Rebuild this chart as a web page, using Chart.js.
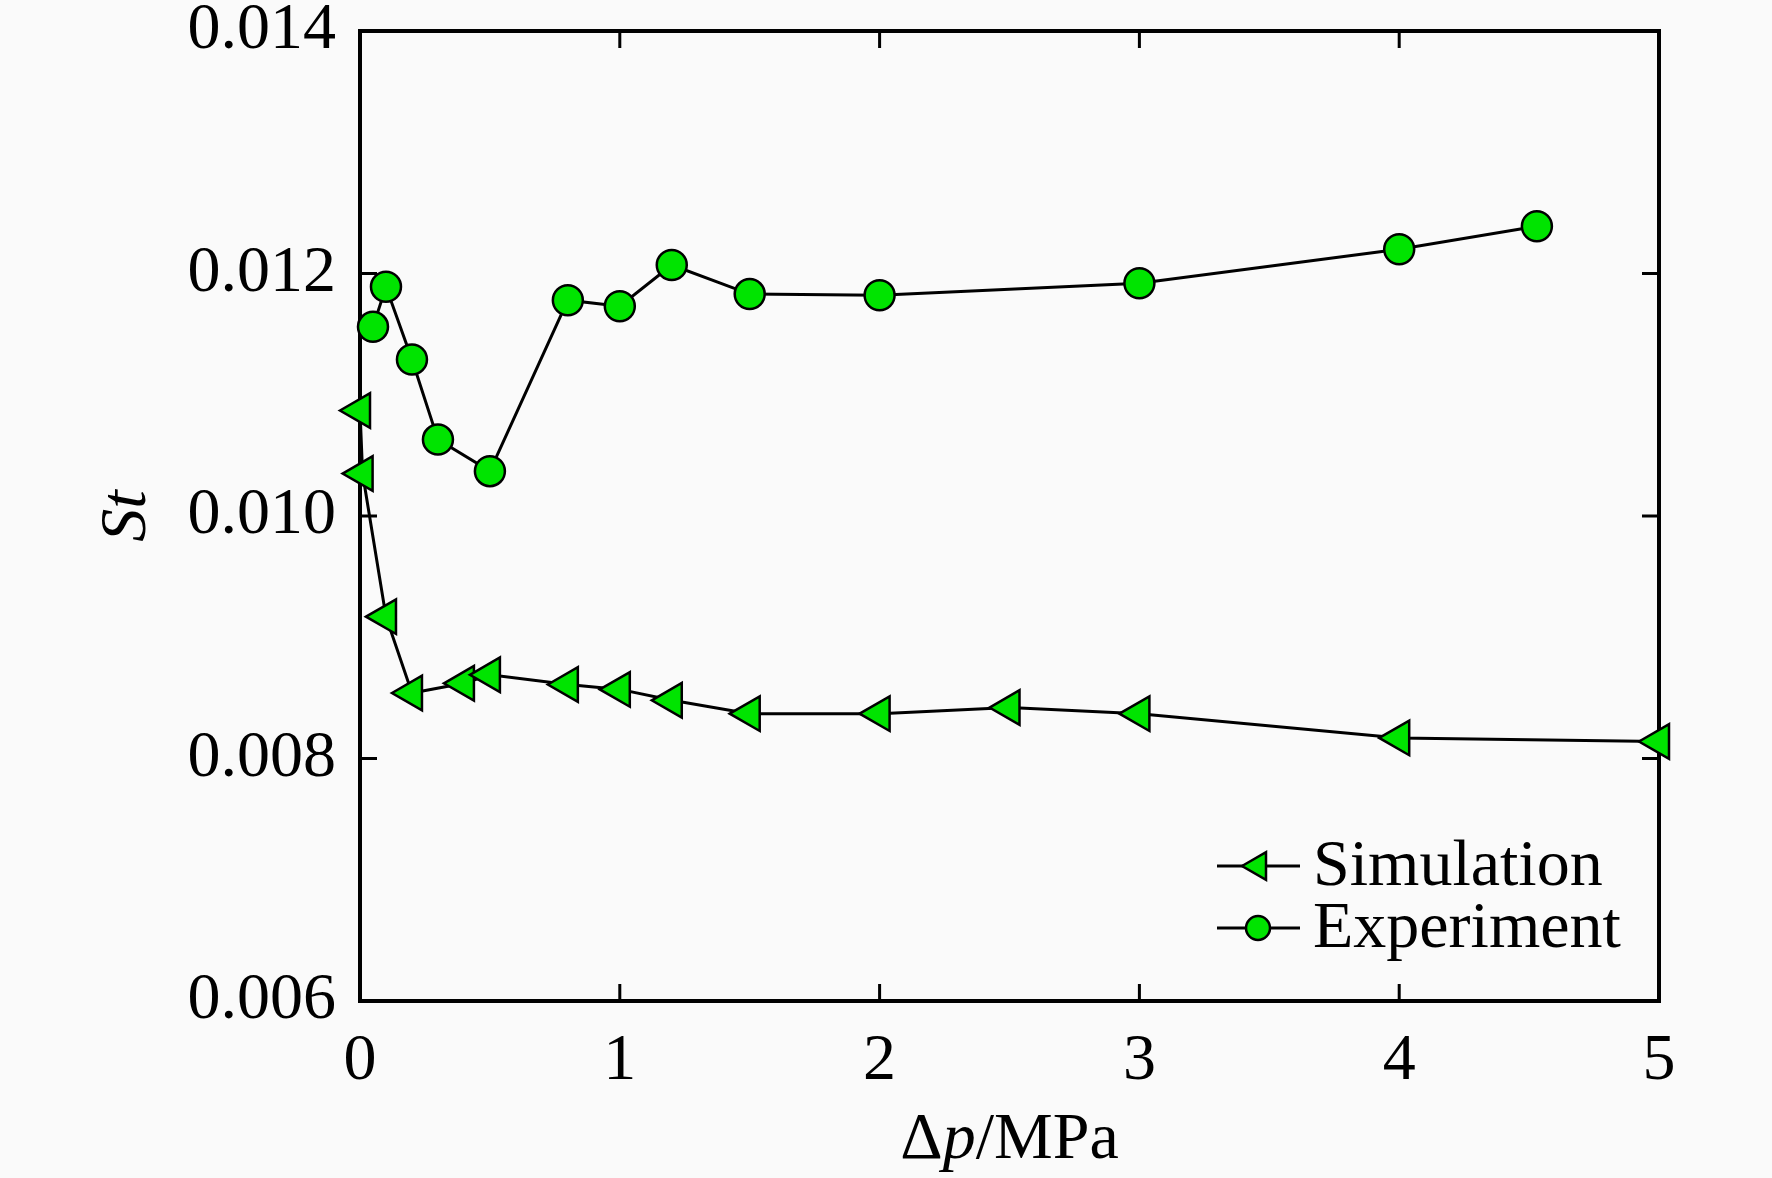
<!DOCTYPE html>
<html>
<head>
<meta charset="utf-8">
<script src="https://cdn.jsdelivr.net/npm/chart.js@4.4.1/dist/chart.umd.min.js"></script>
<style>
  html, body { margin: 0; padding: 0; background: #fafafa; }
  #box { width: 1772px; height: 1178px; }
</style>
</head>
<body>
<div id="box"><canvas id="myChart" width="1772" height="1178"></canvas></div>
<script>
// St vs pressure drop
const simX = [0, 0.01, 0.1, 0.2, 0.4, 0.5, 0.8, 1.0, 1.2, 1.5, 2.0, 2.5, 3.0, 4.0, 5.0];
const simY = [0.01087, 0.01035, 0.00917, 0.00854, 0.00862, 0.00869, 0.00861, 0.00857, 0.00848, 0.00837, 0.00837, 0.00842, 0.00837, 0.00817, 0.00814];

const expX = [0.05, 0.1, 0.2, 0.3, 0.5, 0.8, 1.0, 1.2, 1.5, 2.0, 3.0, 4.0, 4.53];
const expY = [0.01156, 0.01189, 0.01129, 0.01063, 0.01037, 0.01178, 0.01173, 0.01207, 0.01183, 0.01182, 0.01192, 0.0122, 0.01239];

const xTicks = [0, 1, 2, 3, 4, 5];
const yTicks = [0.006, 0.008, 0.010, 0.012, 0.014];

const serif = "'Liberation Serif', 'Times New Roman', serif";
const fsize = 66;
const green = "#00e400";

function pts(xs, ys) {
    return xs.map((x, i) => ({ x: x, y: ys[i] }))
}

// box around the plot and inward ticks on all four sides
const frame = {
    id: "frame",
    beforeDatasetsDraw(chart) {
        const ctx = chart.ctx
        const a = chart.chartArea
        const xs = chart.scales.x
        const ys = chart.scales.y
        const len = 17
        ctx.save()
        ctx.strokeStyle = "#000"
        ctx.lineWidth = 3
        ctx.beginPath()
        xTicks.slice(1, -1).forEach(v => {
            const px = xs.getPixelForValue(v)
            ctx.moveTo(px, a.bottom); ctx.lineTo(px, a.bottom - len)
            ctx.moveTo(px, a.top); ctx.lineTo(px, a.top + len)
        })
        yTicks.slice(1, -1).forEach(v => {
            const py = ys.getPixelForValue(v)
            ctx.moveTo(a.left, py); ctx.lineTo(a.left + len, py)
            ctx.moveTo(a.right, py); ctx.lineTo(a.right - len, py)
        })
        ctx.stroke()
        ctx.lineWidth = 4
        ctx.strokeRect(a.left, a.top, a.right - a.left, a.bottom - a.top)
        ctx.restore()
    },
    afterDraw(chart) {
        // x title with italic p
        const ctx = chart.ctx
        const a = chart.chartArea
        const parts = [["Δ", ""], ["p", "italic "], ["/MPa", ""]]
        ctx.save()
        ctx.fillStyle = "#000"
        ctx.textBaseline = "alphabetic"
        let total = 0
        parts.forEach(p => { ctx.font = p[1] + fsize + "px " + serif; total += ctx.measureText(p[0]).width })
        let x = (a.left + a.right) / 2 - total / 2
        const y = 1158
        parts.forEach(p => {
            ctx.font = p[1] + fsize + "px " + serif
            ctx.fillText(p[0], x, y)
            x += ctx.measureText(p[0]).width
        })
        ctx.restore()
    }
}

// legend inside the plot, lower right
const innerLegend = {
    id: "innerLegend",
    afterDraw(chart) {
        const ctx = chart.ctx
        const a = chart.chartArea
        const x0 = a.right - 442
        const rows = [a.bottom - 135, a.bottom - 73]
        ctx.save()
        chart.data.datasets.forEach((ds, i) => {
            const y = rows[i]
            ctx.strokeStyle = "#000"
            ctx.lineWidth = 3
            ctx.beginPath()
            ctx.moveTo(x0, y); ctx.lineTo(x0 + 83, y)
            ctx.stroke()
            const cx = x0 + 41
            ctx.fillStyle = green
            ctx.lineWidth = 2.5
            ctx.beginPath()
            if (ds.pointStyle === "triangle") {
                const r = 16
                ctx.moveTo(cx - r, y)
                ctx.lineTo(cx + r / 2, y - r * 0.866)
                ctx.lineTo(cx + r / 2, y + r * 0.866)
                ctx.closePath()
            } else {
                ctx.arc(cx, y, 12, 0, Math.PI * 2)
            }
            ctx.fill()
            ctx.stroke()
            ctx.fillStyle = "#000"
            ctx.font = fsize + "px " + serif
            ctx.textBaseline = "middle"
            ctx.fillText(ds.label, x0 + 96, y + 2)
        })
        ctx.restore()
    }
}

const ctx = document.getElementById("myChart")

const myChart = new Chart(ctx, {
    type: "line",
    data: {
        datasets: [{
            label: "Simulation",
            data: pts(simX, simY),
            borderColor: "#000",
            borderWidth: 3,
            pointStyle: "triangle",
            pointRotation: -90,
            pointRadius: 20,
            pointBackgroundColor: green,
            pointBorderColor: "#000",
            pointBorderWidth: 2.5,
            tension: 0,
            clip: false
        }, {
            label: "Experiment",
            data: pts(expX, expY),
            borderColor: "#000",
            borderWidth: 3,
            pointStyle: "circle",
            pointRadius: 15,
            pointBackgroundColor: green,
            pointBorderColor: "#000",
            pointBorderWidth: 2.5,
            tension: 0,
            clip: false
        }]
    },
    options: {
        responsive: false,
        devicePixelRatio: 1,
        animation: false,
        layout: { padding: { top: 31, right: 113, left: 0, bottom: 0 } },
        plugins: {
            legend: { display: false },
            tooltip: { enabled: false }
        },
        scales: {
            x: {
                type: "linear",
                min: 0,
                max: 5,
                afterFit(s) {
                    s.height = 177
                    s.paddingLeft = 0
                    s.paddingRight = 0
                },
                afterBuildTicks(s) { s.ticks = xTicks.map(v => ({ value: v })) },
                grid: { display: false, drawTicks: false },
                border: { display: false },
                ticks: {
                    color: "#000",
                    padding: 21,
                    font: { family: serif, size: fsize },
                    maxRotation: 0
                }
            },
            y: {
                type: "linear",
                min: 0.006,
                max: 0.014,
                afterFit(s) {
                    s.width = 360
                    s.paddingTop = 0
                    s.paddingBottom = 0
                },
                afterBuildTicks(s) { s.ticks = yTicks.map(v => ({ value: v })) },
                grid: { display: false, drawTicks: false },
                border: { display: false },
                ticks: {
                    color: "#000",
                    padding: 24,
                    font: { family: serif, size: fsize },
                    callback: v => v.toFixed(3)
                },
                title: {
                    display: true,
                    text: "St",
                    color: "#000",
                    font: { family: serif, size: fsize, style: "italic" },
                    padding: { top: 88, bottom: 0 }
                }
            }
        }
    },
    plugins: [frame, innerLegend]
});
</script>
</body>
</html>
